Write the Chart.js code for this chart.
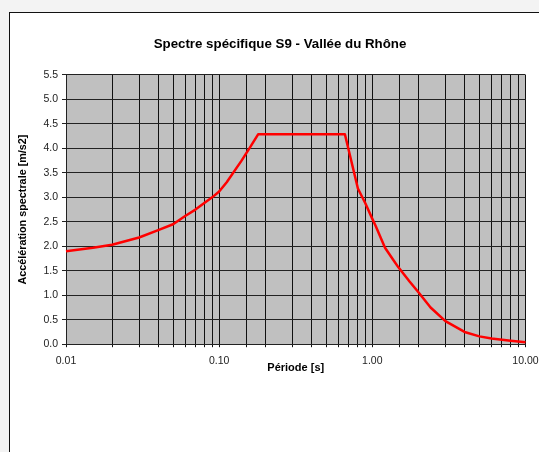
<!DOCTYPE html>
<html><head><meta charset="utf-8">
<script src="https://cdn.jsdelivr.net/npm/chart.js@4"></script>
<style>
html,body{margin:0;padding:0;width:539px;height:452px;overflow:hidden;background:#f3f3f3}
#card{position:absolute;left:9px;top:12px;width:540px;height:450px;background:#fff;border:1px solid #111;box-sizing:border-box}
canvas{position:absolute;left:0;top:0}
</style></head><body>
<div id="card"></div>
<canvas id="c" width="539" height="452"></canvas>
<script>
const chartTitle = 'Spectre spécifique S9 - Vallée du Rhône';
const xTitle = 'Période [s]';
const yTitle = 'Accélération spectrale [m/s2]';
const periods = [0.01,0.015,0.02,0.03,0.04,0.05,0.06,0.07,0.09,0.10,0.112,0.14,0.159,0.18,0.662,0.805,0.9,1.0,1.05,1.21,1.35,1.48,1.75,2.0,2.4,3.0,4.0,5.0,6.0,8.0,10.0];
const spectrum = [1.90,1.97,2.03,2.18,2.33,2.45,2.62,2.75,3.00,3.12,3.31,3.75,4.02,4.29,4.29,3.18,2.88,2.56,2.42,1.97,1.75,1.57,1.28,1.06,0.75,0.47,0.25,0.16,0.115,0.07,0.04];
const yMax = 5.5, yStep = 0.5;
const isMajor = v => { const l = Math.log10(v); return Math.abs(l - Math.round(l)) < 1e-6; };
const plotBg = { id:'plotBg', beforeDraw(ch){ const a = ch.chartArea, g = ch.ctx; g.save(); g.fillStyle='#c0c0c0'; g.fillRect(a.left,a.top,a.width,a.height); g.restore(); } };
new Chart(document.getElementById('c'), {
  type:'line',
  data:{ datasets:[{ data:periods.map((x,i)=>({x,y:spectrum[i]})), borderColor:'#ff0000', borderWidth:2.5, pointRadius:0, tension:0, fill:false, clip:false, borderJoinStyle:'round' }] },
  plugins:[plotBg],
  options:{
    responsive:false, animation:false, devicePixelRatio:1,
    layout:{ padding:{ left:21, right:0, top:36, bottom:77 } },
    plugins:{ legend:{display:false}, tooltip:{enabled:false},
      title:{ display:true, text:chartTitle, color:'#000', font:{family:'Liberation Sans',size:13.3,weight:'bold'}, padding:{top:0,bottom:23} } },
    scales:{
      x:{ type:'logarithmic', min:0.01, max:10,
        grid:{ color:'#111', lineWidth:1, tickLength:3, drawTicks:true },
        border:{ color:'#222', width:1 },
        ticks:{ autoSkip:false, maxRotation:0, color:'#222', padding:7.5, font:{family:'Liberation Sans',size:10.5},
          callback:v => isMajor(v) ? v.toFixed(2) : '' },
        title:{ display:true, text:xTitle, color:'#000', padding:{top:-13,bottom:0}, font:{family:'Liberation Sans',size:11,weight:'bold'} },
        afterFit(s){ s.paddingRight = 13.5; }
      },
      y:{ min:0, max:yMax,
        grid:{ color:'#222', lineWidth:1, tickLength:4 },
        border:{ color:'#222', width:1 },
        ticks:{ stepSize:yStep, color:'#222', padding:4, font:{family:'Liberation Sans',size:10.5}, callback:v => v.toFixed(1) },
        title:{ display:true, text:yTitle, color:'#000', padding:{top:-4,bottom:8}, font:{family:'Liberation Sans',size:10.8,weight:'bold'} },
        afterFit(s){ s.width = 45; }
      }
    }
  }
});
</script>
</body></html>
